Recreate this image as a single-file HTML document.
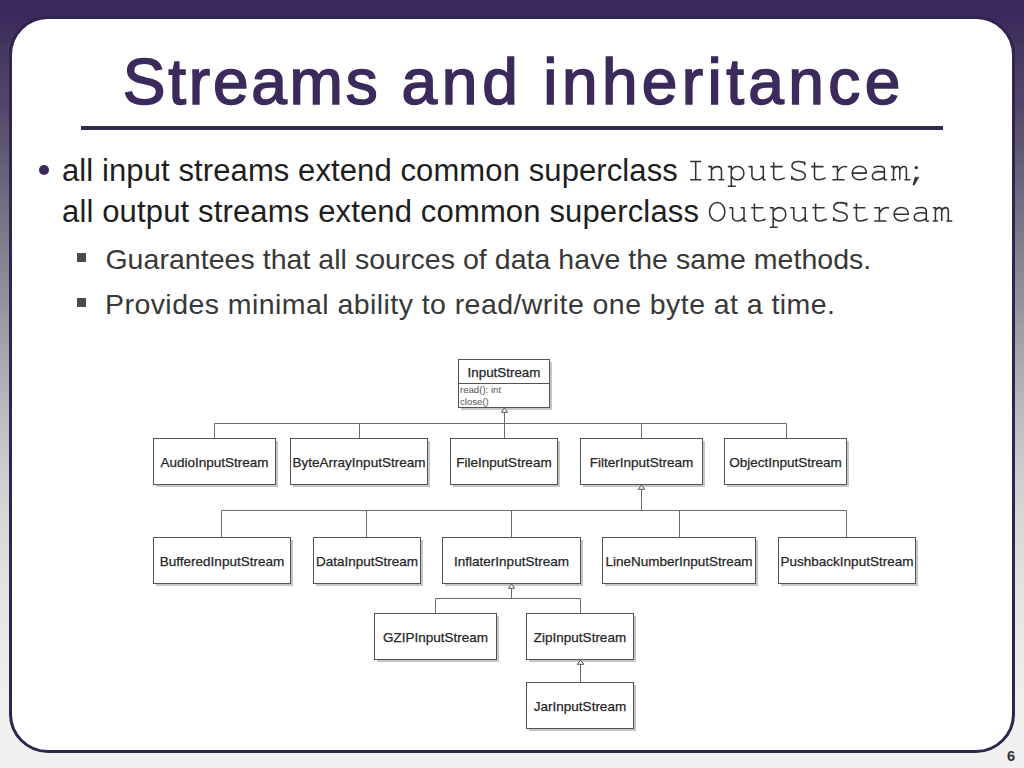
<!DOCTYPE html>
<html>
<head>
<meta charset="utf-8">
<style>
html,body{margin:0;padding:0;}
body{width:1024px;height:768px;overflow:hidden;position:relative;
  background:linear-gradient(to bottom,#3c2a5c 0px,#3c2a5c 20px,#443860 50px,#514868 105px,#716c80 200px,#96939e 305px,#b8b6bb 400px,#d6d5d6 505px,#e6e5e2 600px,#f0f0ee 705px,#f0f0f0 768px);
  font-family:"Liberation Sans",sans-serif;}
.card{position:absolute;left:9px;top:16px;width:1000px;height:730.5px;background:#fff;border:3px solid #30254e;border-radius:39px;}
.abs{position:absolute;white-space:nowrap;}
.title{top:45.3px;font-weight:normal;font-size:64px;line-height:normal;color:#3c2a5c;-webkit-text-stroke:1.6px #3c2a5c;}
.rule{position:absolute;left:81px;top:126px;width:862px;height:3.6px;background:#33264f;}
.dot{position:absolute;left:39.3px;top:164.9px;width:10px;height:10px;border-radius:50%;background:#3c2a5c;}
.l1{font-size:31px;color:#1e1e1e;line-height:normal;}
.sq{position:absolute;width:9px;height:9px;background:#4b4b4b;}
.l2{font-size:28.5px;color:#383838;line-height:normal;}
.pg{position:absolute;left:1007px;top:747.5px;font-weight:bold;font-size:14.5px;color:#333;}
svg{position:absolute;left:0;top:0;}
</style>
</head>
<body>
<div class="card"></div>
<div class="abs title" style="left:122.8px;letter-spacing:2.77px;">Streams</div><div class="abs title" style="left:401.4px;letter-spacing:4.85px;">and</div><div class="abs title" style="left:543.3px;letter-spacing:4.39px;">inheritance</div>
<div class="rule"></div>
<div class="dot"></div>
<div class="abs l1" style="left:62px;top:152.9px;"><span style="letter-spacing:0.1px">all input streams extend common superclass </span></div>
<div class="abs l1" style="left:62px;top:193.5px;"><span style="letter-spacing:0.15px">all output streams extend common superclass </span></div>
<div class="sq" style="left:77px;top:253.2px;"></div>
<div class="abs l2" style="left:105.4px;top:242.7px;letter-spacing:0.04px;">Guarantees that all sources of data have the same methods.</div>
<div class="sq" style="left:77px;top:298.2px;"></div>
<div class="abs l2" style="left:105px;top:287.8px;letter-spacing:0.44px;">Provides minimal ability to read/write one byte at a time.</div>

<svg width="1024" height="768" viewBox="0 0 1024 768" font-family="Liberation Sans" >
<!--MONO-->
<g fill="none" stroke="#333" stroke-width="1.55" stroke-linecap="butt" stroke-linejoin="round">
<path transform="translate(685.50,180.60)" d="M4.7,-19.1 H15.7 M4.7,-0.8 H15.7 M10.2,-19.1 V-0.8"/>
<path transform="translate(705.90,180.60)" d="M2.2,-14 H5.6 V-0.8 M2.2,-0.8 H9 M5.6,-10.5 C7,-13 9,-14 11.5,-14 C14,-14 15.6,-12.8 15.6,-10 V-0.8 M12.6,-0.8 H18.4"/>
<path transform="translate(726.30,180.60)" d="M1.5,-14 H5 V5.6 M1.5,5.6 H9.5 M5,-10 C6.2,-12.6 8.5,-14.1 11.3,-14.1 C15,-14.1 17.6,-11 17.6,-7.4 C17.6,-3.8 15,-0.8 11.3,-0.8 C8.5,-0.8 6.2,-2.3 5,-4.8"/>
<path transform="translate(746.70,180.60)" d="M1.8,-14 H5.2 V-5 C5.2,-2 7.2,-0.8 10.2,-0.8 C13.2,-0.8 15.2,-2.5 16.6,-4.5 M13.2,-14 H16.6 V-0.8 H19"/>
<path transform="translate(767.10,180.60)" d="M6.6,-18.3 V-4 C6.6,-1.8 8,-0.8 10.5,-0.8 C13,-0.8 15.5,-1.5 17.8,-2.7 M3.3,-14 H15.6"/>
<path transform="translate(787.50,180.60)" d="M17.2,-19.1 V-15.3 M17.2,-17 C16,-18.6 13.6,-19.1 11,-19.1 C7,-19.1 4.5,-17.3 4.5,-14.5 C4.5,-11.5 7,-10.6 11,-9.8 C15.5,-9 17.8,-7.8 17.8,-5 C17.8,-2 15.5,-0.7 11.2,-0.7 C8,-0.7 5.6,-1.6 4.3,-3 M4.3,-4.8 V-0.8"/>
<path transform="translate(807.90,180.60)" d="M6.6,-18.3 V-4 C6.6,-1.8 8,-0.8 10.5,-0.8 C13,-0.8 15.5,-1.5 17.8,-2.7 M3.3,-14 H15.6"/>
<path transform="translate(828.30,180.60)" d="M4,-14 H9.2 V-0.8 M4,-0.8 H16.3 M9.2,-8.5 C11,-12.3 13.5,-14.1 16.5,-14.1 C17.5,-14.1 18.3,-13.9 18.8,-13.5"/>
<path transform="translate(848.70,180.60)" d="M3.5,-7.5 H17.7 C17.7,-11.8 14.8,-14.3 10.8,-14.3 C6.5,-14.3 3.5,-11.4 3.5,-7.5 C3.5,-3.4 6.5,-0.8 11,-0.8 C13.8,-0.8 16.2,-1.6 17.8,-3"/>
<path transform="translate(869.10,180.60)" d="M4.5,-13 C6,-14 8,-14.3 10.5,-14.3 C13.5,-14.3 15.3,-13 15.3,-10.5 V-0.8 H18 M15.3,-8.3 C13.5,-8.8 11.5,-9 9.5,-9 C5.5,-9 3.3,-7.2 3.3,-4.7 C3.3,-2.3 5.3,-0.8 8.3,-0.8 C11,-0.8 13.5,-1.8 15.3,-3.5"/>
<path transform="translate(889.50,180.60)" d="M1.4,-14 H4 V-0.8 M1.4,-0.8 H6.5 M4,-11 C5,-13.2 6.3,-14.1 7.8,-14.1 C9.5,-14.1 10.3,-13 10.3,-11 V-0.8 M10.3,-11 C11.3,-13.2 12.6,-14.1 14.2,-14.1 C15.9,-14.1 16.9,-13 16.9,-11 V-0.8 M15,-0.8 H20.9"/>
<circle cx="916.30" cy="167.60" r="1.7" fill="#333" stroke="none"/>
<path transform="translate(909.90,180.60)" d="M5.2,-3.4 L8.9,-3.4 L4.4,4.6 L3.0,4.2 Z" fill="#333" stroke="#333" stroke-width="0.6"/>
</g>
<g fill="none" stroke="#333" stroke-width="1.55" stroke-linecap="butt" stroke-linejoin="round">
<path transform="translate(707.00,221.70)" d="M10.2,-19.2 C14.6,-19.2 17.9,-15.2 17.9,-10 C17.9,-4.8 14.6,-0.8 10.2,-0.8 C5.8,-0.8 2.5,-4.8 2.5,-10 C2.5,-15.2 5.8,-19.2 10.2,-19.2 Z"/>
<path transform="translate(727.40,221.70)" d="M1.8,-14 H5.2 V-5 C5.2,-2 7.2,-0.8 10.2,-0.8 C13.2,-0.8 15.2,-2.5 16.6,-4.5 M13.2,-14 H16.6 V-0.8 H19"/>
<path transform="translate(747.80,221.70)" d="M6.6,-18.3 V-4 C6.6,-1.8 8,-0.8 10.5,-0.8 C13,-0.8 15.5,-1.5 17.8,-2.7 M3.3,-14 H15.6"/>
<path transform="translate(768.20,221.70)" d="M1.5,-14 H5 V5.6 M1.5,5.6 H9.5 M5,-10 C6.2,-12.6 8.5,-14.1 11.3,-14.1 C15,-14.1 17.6,-11 17.6,-7.4 C17.6,-3.8 15,-0.8 11.3,-0.8 C8.5,-0.8 6.2,-2.3 5,-4.8"/>
<path transform="translate(788.60,221.70)" d="M1.8,-14 H5.2 V-5 C5.2,-2 7.2,-0.8 10.2,-0.8 C13.2,-0.8 15.2,-2.5 16.6,-4.5 M13.2,-14 H16.6 V-0.8 H19"/>
<path transform="translate(809.00,221.70)" d="M6.6,-18.3 V-4 C6.6,-1.8 8,-0.8 10.5,-0.8 C13,-0.8 15.5,-1.5 17.8,-2.7 M3.3,-14 H15.6"/>
<path transform="translate(829.40,221.70)" d="M17.2,-19.1 V-15.3 M17.2,-17 C16,-18.6 13.6,-19.1 11,-19.1 C7,-19.1 4.5,-17.3 4.5,-14.5 C4.5,-11.5 7,-10.6 11,-9.8 C15.5,-9 17.8,-7.8 17.8,-5 C17.8,-2 15.5,-0.7 11.2,-0.7 C8,-0.7 5.6,-1.6 4.3,-3 M4.3,-4.8 V-0.8"/>
<path transform="translate(849.80,221.70)" d="M6.6,-18.3 V-4 C6.6,-1.8 8,-0.8 10.5,-0.8 C13,-0.8 15.5,-1.5 17.8,-2.7 M3.3,-14 H15.6"/>
<path transform="translate(870.20,221.70)" d="M4,-14 H9.2 V-0.8 M4,-0.8 H16.3 M9.2,-8.5 C11,-12.3 13.5,-14.1 16.5,-14.1 C17.5,-14.1 18.3,-13.9 18.8,-13.5"/>
<path transform="translate(890.60,221.70)" d="M3.5,-7.5 H17.7 C17.7,-11.8 14.8,-14.3 10.8,-14.3 C6.5,-14.3 3.5,-11.4 3.5,-7.5 C3.5,-3.4 6.5,-0.8 11,-0.8 C13.8,-0.8 16.2,-1.6 17.8,-3"/>
<path transform="translate(911.00,221.70)" d="M4.5,-13 C6,-14 8,-14.3 10.5,-14.3 C13.5,-14.3 15.3,-13 15.3,-10.5 V-0.8 H18 M15.3,-8.3 C13.5,-8.8 11.5,-9 9.5,-9 C5.5,-9 3.3,-7.2 3.3,-4.7 C3.3,-2.3 5.3,-0.8 8.3,-0.8 C11,-0.8 13.5,-1.8 15.3,-3.5"/>
<path transform="translate(931.40,221.70)" d="M1.4,-14 H4 V-0.8 M1.4,-0.8 H6.5 M4,-11 C5,-13.2 6.3,-14.1 7.8,-14.1 C9.5,-14.1 10.3,-13 10.3,-11 V-0.8 M10.3,-11 C11.3,-13.2 12.6,-14.1 14.2,-14.1 C15.9,-14.1 16.9,-13 16.9,-11 V-0.8 M15,-0.8 H20.9"/>
</g>
<!--/MONO-->
<!--DIAG-->
<rect x="156.0" y="441.0" width="122.0" height="46.0" fill="#c6c6c6"/>
<rect x="153.5" y="438.5" width="122.0" height="46.0" fill="#fff" stroke="#535353" stroke-width="1"/>
<text x="214.5" y="467.1" text-anchor="middle" font-size="13.5" fill="#262626" stroke="#262626" stroke-width="0.25">AudioInputStream</text>
<rect x="293.0" y="441.0" width="137.0" height="46.0" fill="#c6c6c6"/>
<rect x="290.5" y="438.5" width="137.0" height="46.0" fill="#fff" stroke="#535353" stroke-width="1"/>
<text x="359.0" y="467.1" text-anchor="middle" font-size="13.5" fill="#262626" stroke="#262626" stroke-width="0.25">ByteArrayInputStream</text>
<rect x="453.0" y="441.0" width="107.0" height="46.0" fill="#c6c6c6"/>
<rect x="450.5" y="438.5" width="107.0" height="46.0" fill="#fff" stroke="#535353" stroke-width="1"/>
<text x="504.0" y="467.1" text-anchor="middle" font-size="13.5" fill="#262626" stroke="#262626" stroke-width="0.25">FileInputStream</text>
<rect x="583.0" y="441.0" width="122.0" height="46.0" fill="#c6c6c6"/>
<rect x="580.5" y="438.5" width="122.0" height="46.0" fill="#fff" stroke="#535353" stroke-width="1"/>
<text x="641.5" y="467.1" text-anchor="middle" font-size="13.5" fill="#262626" stroke="#262626" stroke-width="0.25">FilterInputStream</text>
<rect x="727.0" y="441.0" width="122.0" height="46.0" fill="#c6c6c6"/>
<rect x="724.5" y="438.5" width="122.0" height="46.0" fill="#fff" stroke="#535353" stroke-width="1"/>
<text x="785.5" y="467.1" text-anchor="middle" font-size="13.5" fill="#262626" stroke="#262626" stroke-width="0.25">ObjectInputStream</text>
<rect x="156.0" y="540.0" width="137.0" height="46.0" fill="#c6c6c6"/>
<rect x="153.5" y="537.5" width="137.0" height="46.0" fill="#fff" stroke="#535353" stroke-width="1"/>
<text x="222.0" y="566.1" text-anchor="middle" font-size="13.5" fill="#262626" stroke="#262626" stroke-width="0.25">BufferedInputStream</text>
<rect x="316.0" y="540.0" width="107.0" height="46.0" fill="#c6c6c6"/>
<rect x="313.5" y="537.5" width="107.0" height="46.0" fill="#fff" stroke="#535353" stroke-width="1"/>
<text x="367.0" y="566.1" text-anchor="middle" font-size="13.5" fill="#262626" stroke="#262626" stroke-width="0.25">DataInputStream</text>
<rect x="445.0" y="540.0" width="138.0" height="46.0" fill="#c6c6c6"/>
<rect x="442.5" y="537.5" width="138.0" height="46.0" fill="#fff" stroke="#535353" stroke-width="1"/>
<text x="511.5" y="566.1" text-anchor="middle" font-size="13.5" fill="#262626" stroke="#262626" stroke-width="0.25">InflaterInputStream</text>
<rect x="605.0" y="540.0" width="153.0" height="46.0" fill="#c6c6c6"/>
<rect x="602.5" y="537.5" width="153.0" height="46.0" fill="#fff" stroke="#535353" stroke-width="1"/>
<text x="679.0" y="566.1" text-anchor="middle" font-size="13.5" fill="#262626" stroke="#262626" stroke-width="0.25">LineNumberInputStream</text>
<rect x="781.0" y="540.0" width="137.0" height="46.0" fill="#c6c6c6"/>
<rect x="778.5" y="537.5" width="137.0" height="46.0" fill="#fff" stroke="#535353" stroke-width="1"/>
<text x="847.0" y="566.1" text-anchor="middle" font-size="13.5" fill="#262626" stroke="#262626" stroke-width="0.25">PushbackInputStream</text>
<rect x="377.0" y="616.0" width="122.0" height="46.0" fill="#c6c6c6"/>
<rect x="374.5" y="613.5" width="122.0" height="46.0" fill="#fff" stroke="#535353" stroke-width="1"/>
<text x="435.5" y="642.1" text-anchor="middle" font-size="13.5" fill="#262626" stroke="#262626" stroke-width="0.25">GZIPInputStream</text>
<rect x="529.0" y="616.0" width="107.0" height="46.0" fill="#c6c6c6"/>
<rect x="526.5" y="613.5" width="107.0" height="46.0" fill="#fff" stroke="#535353" stroke-width="1"/>
<text x="580.0" y="642.1" text-anchor="middle" font-size="13.5" fill="#262626" stroke="#262626" stroke-width="0.25">ZipInputStream</text>
<rect x="529.0" y="685.0" width="107.0" height="46.0" fill="#c6c6c6"/>
<rect x="526.5" y="682.5" width="107.0" height="46.0" fill="#fff" stroke="#535353" stroke-width="1"/>
<text x="580.0" y="711.1" text-anchor="middle" font-size="13.5" fill="#262626" stroke="#262626" stroke-width="0.25">JarInputStream</text>
<rect x="461.0" y="362.0" width="91.0" height="48.0" fill="#c6c6c6"/>
<rect x="458.5" y="359.5" width="91.0" height="48.0" fill="#fff" stroke="#535353" stroke-width="1"/>
<line x1="458.5" y1="383.5" x2="549.5" y2="383.5" stroke="#535353" stroke-width="1"/>
<text x="504" y="376.7" text-anchor="middle" font-size="13.4" fill="#262626" stroke="#262626" stroke-width="0.25">InputStream</text>
<text x="460" y="392.8" font-size="9.6" fill="#555">read(): int</text>
<text x="460" y="404.6" font-size="9.6" fill="#555">close()</text>
<line x1="214.5" y1="423.5" x2="786.5" y2="423.5" stroke="#6a6a6a" stroke-width="1"/>
<line x1="214.5" y1="423.5" x2="214.5" y2="438.5" stroke="#6a6a6a" stroke-width="1"/>
<line x1="359.5" y1="423.5" x2="359.5" y2="438.5" stroke="#6a6a6a" stroke-width="1"/>
<line x1="786.5" y1="423.5" x2="786.5" y2="438.5" stroke="#6a6a6a" stroke-width="1"/>
<line x1="641.5" y1="423.5" x2="641.5" y2="438.5" stroke="#6a6a6a" stroke-width="1"/>
<line x1="504.5" y1="412" x2="504.5" y2="438.5" stroke="#6a6a6a" stroke-width="1"/>
<path d="M504.5 408 L507.7 412.3 L501.3 412.3 Z" fill="#fff" stroke="#535353" stroke-width="1"/>
<line x1="221.5" y1="510.5" x2="846.5" y2="510.5" stroke="#6a6a6a" stroke-width="1"/>
<line x1="221.5" y1="510.5" x2="221.5" y2="537.5" stroke="#6a6a6a" stroke-width="1"/>
<line x1="366.5" y1="510.5" x2="366.5" y2="537.5" stroke="#6a6a6a" stroke-width="1"/>
<line x1="511.5" y1="510.5" x2="511.5" y2="537.5" stroke="#6a6a6a" stroke-width="1"/>
<line x1="679.5" y1="510.5" x2="679.5" y2="537.5" stroke="#6a6a6a" stroke-width="1"/>
<line x1="846.5" y1="510.5" x2="846.5" y2="537.5" stroke="#6a6a6a" stroke-width="1"/>
<line x1="641.5" y1="489" x2="641.5" y2="510.5" stroke="#6a6a6a" stroke-width="1"/>
<path d="M641.5 485 L644.7 489.3 L638.3 489.3 Z" fill="#fff" stroke="#535353" stroke-width="1"/>
<line x1="435.5" y1="598.5" x2="580.5" y2="598.5" stroke="#6a6a6a" stroke-width="1"/>
<line x1="435.5" y1="598.5" x2="435.5" y2="613.5" stroke="#6a6a6a" stroke-width="1"/>
<line x1="580.5" y1="598.5" x2="580.5" y2="613.5" stroke="#6a6a6a" stroke-width="1"/>
<line x1="511.5" y1="588" x2="511.5" y2="598.5" stroke="#6a6a6a" stroke-width="1"/>
<path d="M511.5 584 L514.7 588.3 L508.3 588.3 Z" fill="#fff" stroke="#535353" stroke-width="1"/>
<line x1="580.5" y1="664" x2="580.5" y2="682.5" stroke="#6a6a6a" stroke-width="1"/>
<path d="M580.5 660 L583.7 664.3 L577.3 664.3 Z" fill="#fff" stroke="#535353" stroke-width="1"/>
<!--/DIAG-->
</svg>
<div class="pg">6</div>
</body>
</html>
